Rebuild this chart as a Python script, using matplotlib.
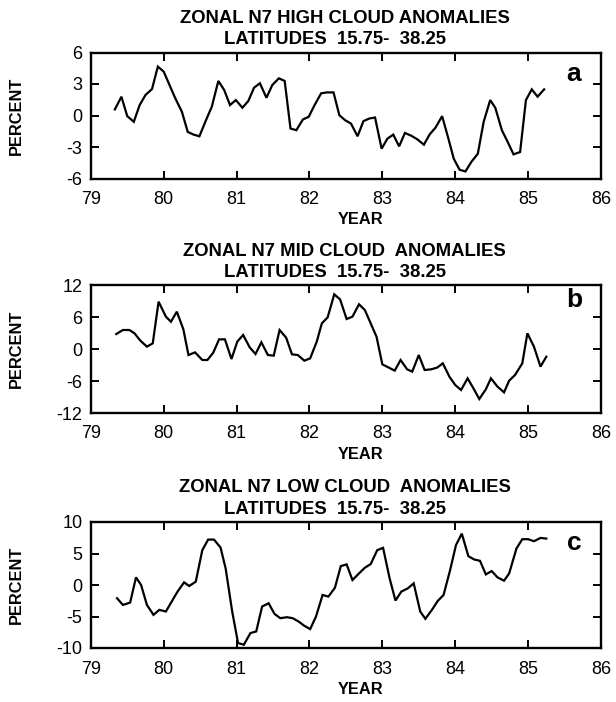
import numpy as np
import matplotlib
matplotlib.use('Agg')
import matplotlib.pyplot as plt

plt.rcParams['font.family'] = ['Liberation Sans', 'DejaVu Sans']
plt.rcParams['axes.unicode_minus'] = False

# ---------------- data ----------------
high_year = [79.33, 79.42, 79.50, 79.59, 79.67, 79.75, 79.84, 79.92, 80.00, 80.08,
             80.16, 80.25, 80.33, 80.41, 80.49, 80.58, 80.66, 80.75, 80.83, 80.91,
             80.99, 81.08, 81.16, 81.24, 81.32, 81.41, 81.49, 81.58, 81.66, 81.74,
             81.82, 81.91, 81.99, 82.07, 82.16, 82.24, 82.33, 82.41, 82.49, 82.57,
             82.66, 82.74, 82.82, 82.90, 82.99, 83.07, 83.15, 83.23, 83.31, 83.40,
             83.48, 83.57, 83.65, 83.73, 83.82, 83.90, 83.98, 84.06, 84.14, 84.22,
             84.31, 84.39, 84.48, 84.55, 84.64, 84.72, 84.80, 84.89, 84.97, 85.05,
             85.13, 85.22]
high_pct = [0.58, 1.79, -0.06, -0.60, 0.99, 1.95, 2.52, 4.66, 4.18, 2.90,
            1.63, 0.35, -1.56, -1.82, -1.98, -0.45, 0.83, 3.29, 2.43, 0.99,
            1.47, 0.74, 1.37, 2.65, 3.07, 1.69, 2.90, 3.54, 3.29, -1.24,
            -1.40, -0.38, -0.12, 0.99, 2.11, 2.20, 2.20, 0.03, -0.45, -0.77,
            -1.98, -0.54, -0.29, -0.19, -3.16, -2.20, -1.82, -2.94, -1.66, -1.94,
            -2.27, -2.78, -1.79, -1.15, -0.06, -2.04, -4.12, -5.17, -5.33, -4.43,
            -3.64, -0.61, 1.47, 0.73, -1.40, -2.52, -3.70, -3.48, 1.47, 2.49,
            1.79, 2.49]

mid_year = [79.35, 79.44, 79.53, 79.60, 79.68, 79.77, 79.85, 79.93, 80.03, 80.10,
            80.18, 80.27, 80.34, 80.43, 80.53, 80.60, 80.68, 80.76, 80.84, 80.93,
            81.01, 81.09, 81.18, 81.26, 81.34, 81.43, 81.51, 81.59, 81.68, 81.76,
            81.84, 81.93, 82.01, 82.10, 82.17, 82.25, 82.34, 82.42, 82.51, 82.59,
            82.68, 82.76, 82.84, 82.92, 83.00, 83.09, 83.17, 83.25, 83.34, 83.41,
            83.50, 83.58, 83.67, 83.75, 83.83, 83.92, 84.00, 84.08, 84.17, 84.25,
            84.33, 84.42, 84.49, 84.58, 84.67, 84.74, 84.82, 84.92, 84.99, 85.08,
            85.17, 85.25]
mid_pct = [2.81, 3.56, 3.56, 2.94, 1.56, 0.44, 1.06, 8.88, 6.06, 5.12,
           7.00, 3.69, -1.13, -0.63, -2.06, -2.06, -0.69, 1.81, 1.81, -1.88,
           1.38, 2.63, 0.31, -0.94, 1.25, -1.13, -1.25, 3.56, 2.13, -1.00,
           -1.13, -2.19, -1.75, 1.38, 4.81, 5.94, 10.25, 9.31, 5.62, 6.06,
           8.38, 7.31, 4.81, 2.31, -2.88, -3.50, -4.06, -2.06, -3.81, -4.25,
           -1.13, -3.94, -3.81, -3.50, -2.69, -5.19, -6.75, -7.69, -5.50, -7.38,
           -9.38, -7.56, -5.50, -7.06, -8.13, -5.94, -4.88, -2.69, 2.94, 0.44,
           -3.31, -1.44]

low_year = [79.36, 79.44, 79.54, 79.62, 79.69, 79.77, 79.86, 79.94, 80.03, 80.11,
            80.19, 80.28, 80.35, 80.44, 80.53, 80.61, 80.69, 80.78, 80.85, 80.94,
            81.02, 81.10, 81.19, 81.27, 81.35, 81.44, 81.52, 81.60, 81.69, 81.77,
            81.85, 81.93, 82.01, 82.09, 82.18, 82.26, 82.35, 82.43, 82.51, 82.59,
            82.68, 82.76, 82.84, 82.93, 83.01, 83.10, 83.18, 83.26, 83.35, 83.43,
            83.52, 83.59, 83.68, 83.76, 83.84, 83.93, 84.01, 84.09, 84.18, 84.26,
            84.34, 84.42, 84.50, 84.58, 84.67, 84.74, 84.84, 84.92, 85.00, 85.08,
            85.17, 85.25]
low_pct = [-2.10, -3.16, -2.79, 1.21, 0.00, -3.16, -4.74, -3.95, -4.21, -2.63,
           -1.05, 0.42, -0.16, 0.53, 5.53, 7.21, 7.21, 5.95, 2.63, -4.21,
           -9.21, -9.48, -7.63, -7.37, -3.42, -2.90, -4.58, -5.27, -5.11, -5.27,
           -5.79, -6.48, -7.00, -5.00, -1.58, -1.84, -0.42, 3.00, 3.27, 0.79,
           1.84, 2.74, 3.32, 5.53, 5.90, 1.05, -2.47, -1.05, -0.53, 0.26,
           -4.21, -5.37, -3.95, -2.53, -1.58, 2.37, 6.32, 8.16, 4.58, 4.05,
           3.84, 1.68, 2.21, 1.21, 0.68, 1.84, 5.79, 7.27, 7.27, 6.95,
           7.47, 7.37]

year_ticks = [79, 80, 81, 82, 83, 84, 85, 86]
high_ticks = [-6, -3, 0, 3, 6]
mid_ticks = [-12, -6, 0, 6, 12]
low_ticks = [-10, -5, 0, 5, 10]

titles1 = ['ZONAL N7 HIGH CLOUD ANOMALIES',
           'ZONAL N7 MID CLOUD  ANOMALIES',
           'ZONAL N7 LOW CLOUD  ANOMALIES']
title2 = 'LATITUDES  15.75-  38.25'
letters = ['a', 'b', 'c']

# ---------------- layout ----------------
W, H = 616, 702
fig = plt.figure(figsize=(W / 100, H / 100), dpi=100)
LEFT, RIGHT = 90.8, 601.0
panels = [
    (high_year, high_pct, high_ticks, 52.5, 178.5, 28.5),
    (mid_year, mid_pct, mid_ticks, 285.0, 413.0, 22.0),
    (low_year, low_pct, low_ticks, 522.0, 648.0, 28.5),
]

def fx(x):
    return x / W

def fy(y):
    return 1 - y / H

for i, (yr, pct, yt, top, bot, let_off) in enumerate(panels):
    ax = fig.add_axes([fx(LEFT), fy(bot), (RIGHT - LEFT) / W, (bot - top) / H])
    ax.plot(yr, pct, color='black', lw=1.6, solid_joinstyle='miter')
    ax.set_xlim(year_ticks[0], year_ticks[-1])
    ax.set_ylim(yt[0], yt[-1])
    ax.set_xticks(year_ticks)
    ax.set_yticks(yt)
    ax.set_xticklabels([str(v) for v in year_ticks])
    ax.set_yticklabels([str(v) for v in yt])
    for s in ax.spines.values():
        s.set_linewidth(1.7)
    ax.tick_params(axis='both', direction='in', top=True, right=True,
                   length=6, width=1.4, labelsize=13, colors='black')
    ax.tick_params(axis='x', pad=9)
    ax.tick_params(axis='y', pad=6)

    fig.text(fx(344.7), fy(top - 34.0), titles1[i], ha='center', va='center',
             fontsize=13.3, fontweight='bold', color='black')
    fig.text(fx(335.0), fy(top - 12.5), title2, ha='center', va='center',
             fontsize=13.3, fontweight='bold', color='black')
    fig.text(fx(16.0), fy((top + bot) / 2), 'PERCENT', rotation=90,
             ha='center', va='center', fontsize=11.8, fontweight='bold')
    fig.text(fx(361.0), fy(bot + 41.5), 'YEAR', ha='center', va='center',
             fontsize=11.8, fontweight='bold')
    fig.text(fx(574.0), fy(top + let_off), letters[i], ha='center',
             va='baseline', fontsize=19, fontweight='bold')

fig.savefig('out.png', dpi=100)
